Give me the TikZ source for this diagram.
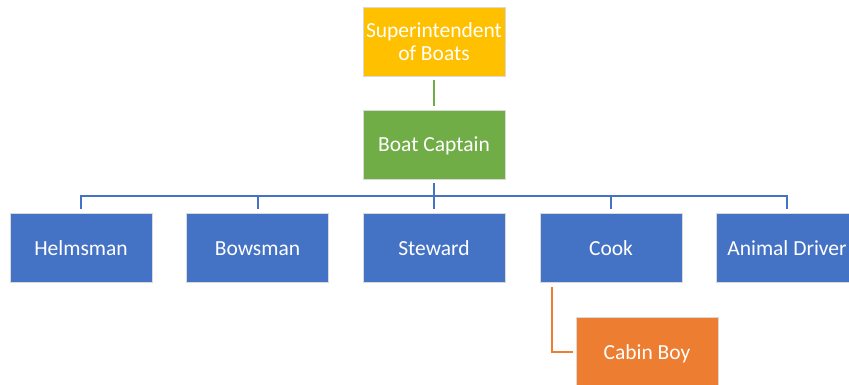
\documentclass[tikz,border=0pt]{standalone}
\usepackage{fontspec}
\setmainfont{Carlito}
\definecolor{cyellow}{HTML}{FFC000}
\definecolor{cgreen}{HTML}{70AD47}
\definecolor{cblue}{HTML}{4472C4}
\definecolor{corange}{HTML}{ED7D31}
\begin{document}
\begin{tikzpicture}[x=1pt,y=-1pt,
  box/.style={rectangle, minimum width=142pt, minimum height=69pt, inner sep=0pt,
    text=white, draw=white!85!black, line width=0.4pt, align=center,
    font=\fontsize{21.5}{23}\selectfont},
  one/.style={text height=15pt, text depth=0pt},
  conn/.style={line width=2pt}]
\useasboundingbox (0,0) rectangle (849,385);
\clip (0,0) rectangle (849,385);
\node[box, fill=cyellow] (sup) at (434,41.5) {Superintendent\\of Boats};
\node[box, one, fill=cgreen] (cap) at (434,144.5) {Boat Captain};
\node[box, one, fill=cblue] (helm) at (81,247.5) {Helmsman};
\node[box, one, fill=cblue] (bow) at (257.5,247.5) {Bowsman};
\node[box, one, fill=cblue] (stew) at (434,247.5) {Steward};
\node[box, one, fill=cblue] (cook) at (611,247.5) {Cook};
\node[box, one, fill=cblue] (drv) at (787,247.5) {Animal Driver};
\node[box, one, fill=corange] (cabin) at (647,351.5) {Cabin Boy};
\coordinate (bus) at (434,196);
\draw[conn, cgreen, shorten <=4pt, shorten >=4pt] (sup.south) -- (cap.north);
\foreach \c in {helm,bow,stew,cook,drv}{
  \draw[conn, cblue, shorten <=4pt, shorten >=4pt] (cap.south) -- (cap.south |- bus) -| (\c.north);
}
\draw[conn, corange, shorten <=5pt, shorten >=3pt] ([xshift=12pt]cook.south west) |- (cabin.west);
\end{tikzpicture}
\end{document}
